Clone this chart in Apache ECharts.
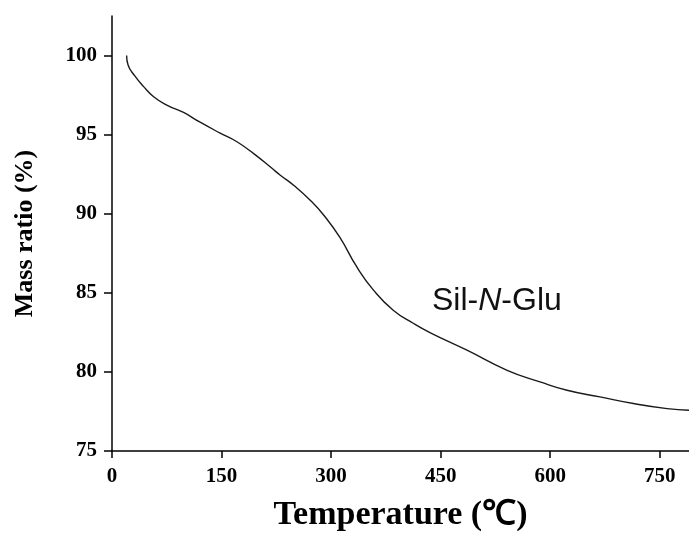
<!DOCTYPE html>
<html>
<head>
<meta charset="utf-8">
<script src="https://cdn.jsdelivr.net/npm/echarts@6/dist/echarts.min.js"></script>
<style>
html, body { margin: 0; padding: 0; background: #fff; }
#main { width: 689px; height: 534px; }
</style>
</head>
<body>
<div id="main"></div>
<script>
// TGA curve, Sil-N-Glu
var temps = [20, 22, 31.5, 43, 57, 75, 98, 120, 148, 171, 194, 219, 230, 250, 271, 290, 312, 335, 358, 385, 413, 436, 486, 541, 586, 623, 668, 714, 760, 790];
var masses = [100.0, 99.4, 98.7, 98.05, 97.4, 96.87, 96.4, 95.8, 95.1, 94.55, 93.8, 92.87, 92.45, 91.75, 90.87, 89.9, 88.5, 86.65, 85.17, 83.9, 83.06, 82.47, 81.37, 80.1, 79.37, 78.84, 78.42, 78.0, 77.68, 77.58];
var xTicks = [0, 150, 300, 450, 600, 750];
var yTicks = [75, 80, 85, 90, 95, 100];
var labelAt = [527, 84.5];

var dom = document.getElementById("main");
var myChart = echarts.init(dom);
var option = null;

var curve = temps.map(function (t, i) { return [t, masses[i]]; });
var axisFont = { fontFamily: '"Liberation Serif", "Times New Roman", serif', fontWeight: 'bold', color: '#000' };

option = {
    animation: false,
    grid: {
        left: 112,
        right: 0,
        top: 16,
        bottom: 83,
        outerBoundsMode: 'none'
    },
    xAxis: {
        type: 'value',
        min: 0,
        max: 790,
        name: 'Temperature (℃)',
        nameLocation: 'middle',
        nameGap: 47,
        nameTextStyle: Object.assign({ fontSize: 34 }, axisFont),
        splitLine: { show: false },
        axisLine: { show: true, onZero: false, lineStyle: { color: '#000', width: 1.5 } },
        axisTick: { show: true, length: 7, customValues: xTicks, lineStyle: { color: '#000', width: 1.5 } },
        axisLabel: Object.assign({ fontSize: 21, margin: 15, customValues: xTicks }, axisFont)
    },
    yAxis: {
        type: 'value',
        min: 75,
        max: 102.5,
        name: 'Mass ratio (%)',
        nameLocation: 'middle',
        nameGap: 74,
        nameTextStyle: Object.assign({ fontSize: 26 }, axisFont),
        splitLine: { show: false },
        axisLine: { show: true, onZero: false, lineStyle: { color: '#000', width: 1.5 } },
        axisTick: { show: true, length: 8, customValues: yTicks, lineStyle: { color: '#000', width: 1.5 } },
        axisLabel: Object.assign({ fontSize: 21, margin: 15, customValues: yTicks }, axisFont)
    },
    series: [
        {
            type: 'line',
            data: curve,
            smooth: true,
            symbol: 'none',
            lineStyle: { color: '#1a1a1a', width: 1.4 },
            markPoint: {
                symbol: 'circle',
                symbolSize: 0,
                data: [{ coord: labelAt }],
                label: {
                    show: true,
                    position: 'inside',
                    formatter: '{a|Sil-}{b|N}{a|-Glu}',
                    rich: {
                        a: { fontFamily: '"Liberation Sans", Arial, sans-serif', fontSize: 32, color: '#111' },
                        b: { fontFamily: '"Liberation Sans", Arial, sans-serif', fontSize: 32, fontStyle: 'italic', color: '#111' }
                    }
                }
            }
        }
    ]
};
if (option && typeof option === "object") {
    myChart.setOption(option, true);
    window.onresize = myChart.resize;
}
</script>
</body>
</html>
